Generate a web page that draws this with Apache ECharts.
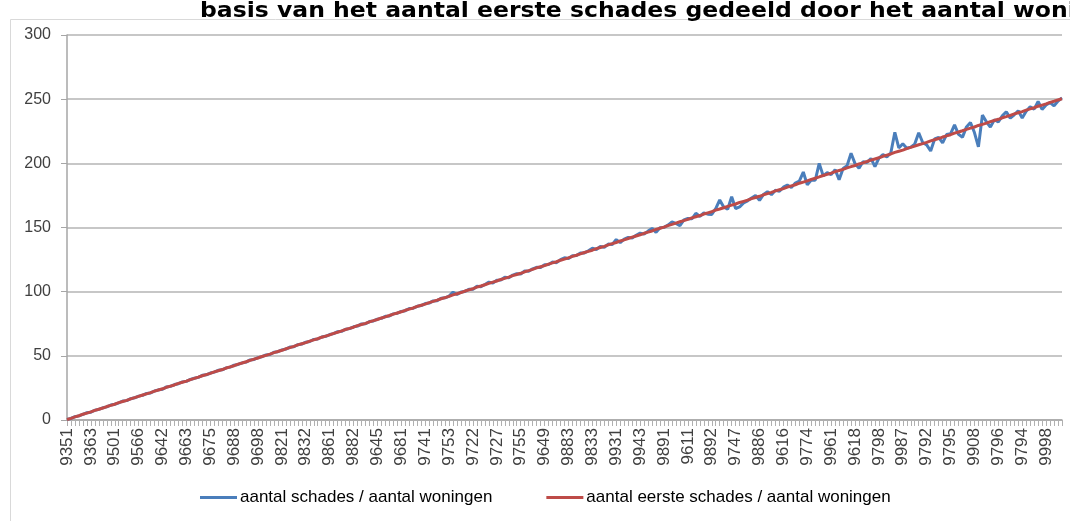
<!DOCTYPE html>
<html>
<head>
<meta charset="utf-8">
<script src="https://cdn.jsdelivr.net/npm/echarts@6/dist/echarts.min.js"></script>
<style>
html,body{margin:0;padding:0;background:#fff;}
#chart{width:1070px;height:521px;}
</style>
</head>
<body>
<div id="chart"></div>
<script>
const titleText = 'basis van het aantal eerste schades gedeeld door het aantal woningen';
const seriesNames = ['aantal schades / aantal woningen', 'aantal eerste schades / aantal woningen'];

// postcode labels readable on the axis (every 6th category)
const tickLabels = ['9351','9363','9501','9566','9642','9663','9675','9688','9698','9821','9832','9861','9882','9645',
  '9681','9741','9753','9722','9727','9755','9649','9883','9833','9931','9943','9891','9611','9892',
  '9747','9886','9616','9774','9961','9618','9798','9987','9792','9795','9908','9796','9794','9998'];
const labelEvery = 6;

const blueValues = [
  0.5,1.2,2.6,3.2,4.4,5.7,6.1,7.6,8.3,9.5,
  10.2,11.7,12.3,13.4,14.8,15.1,16.6,17.3,18.6,19.2,
  20.7,21.1,22.6,23.5,24.0,25.8,26.2,27.6,28.3,29.7,
  30.1,31.6,32.5,33.2,34.8,35.2,36.6,37.3,38.7,39.1,
  40.6,41.2,42.7,43.3,44.5,45.1,46.8,47.2,48.6,49.3,
  50.7,51.0,52.8,53.2,54.6,55.3,56.8,57.1,58.7,59.2,
  60.6,61.2,62.8,63.1,64.7,65.2,66.6,67.3,68.8,69.1,
  70.7,71.2,72.6,73.2,74.9,75.0,76.7,77.2,78.6,79.2,
  80.8,81.1,82.7,83.2,84.6,85.2,86.9,87.1,88.6,89.2,
  90.7,91.1,92.8,93.0,94.9,95.2,96.5,99.6,97.8,99.8,
  100.2,101.9,101.8,104.2,103.9,105.6,107.4,106.8,108.9,109.1,
  111.2,110.8,112.9,114.0,113.8,116.2,115.9,117.8,119.0,118.9,
  120.9,121.2,123.1,122.6,124.9,126.4,125.8,127.9,128.2,130.1,
  130.2,131.9,133.8,132.9,135.2,134.6,137.1,136.8,140.6,138.2,
  141.0,142.3,141.8,143.9,145.6,144.9,147.2,149.3,146.2,149.8,
  150.1,151.9,154.3,153.2,151.4,155.9,157.0,156.8,161.1,158.6,
  161.3,160.4,160.2,164.8,171.5,166.0,164.2,174.0,164.8,166.0,
  169.2,170.8,173.0,174.9,171.2,175.8,177.9,175.6,179.0,178.2,
  181.4,183.0,181.2,184.6,186.2,193.2,183.2,187.0,186.8,200.0,
  190.2,192.8,191.2,195.1,187.2,196.0,198.2,207.9,199.8,196.2,
  201.2,200.6,203.8,197.4,204.1,206.8,205.0,208.2,224.2,212.0,
  215.2,211.8,212.6,215.0,223.8,216.2,214.4,209.6,219.0,220.2,
  216.0,222.4,223.0,230.0,222.6,220.4,228.4,231.8,224.0,212.8,
  237.6,232.4,228.2,234.0,232.2,237.0,240.2,235.2,237.8,241.0,
  235.4,240.6,244.0,242.2,248.2,242.0,245.4,247.4,244.8,248.6,
  251.0
];

const redValues = [
  0.4,1.3,2.4,3.3,4.5,5.4,6.3,7.5,8.4,9.3,
  10.5,11.4,12.3,13.5,14.4,15.3,16.5,17.4,18.4,19.5,
  20.4,21.3,22.5,23.4,24.3,25.5,26.4,27.3,28.5,29.4,
  30.3,31.5,32.4,33.4,34.5,35.4,36.3,37.5,38.4,39.3,
  40.5,41.4,42.3,43.5,44.4,45.4,46.5,47.4,48.3,49.5,
  50.4,51.3,52.5,53.4,54.3,55.5,56.4,57.4,58.5,59.4,
  60.3,61.5,62.4,63.3,64.5,65.4,66.3,67.5,68.4,69.4,
  70.5,71.4,72.3,73.5,74.4,75.3,76.5,77.4,78.3,79.5,
  80.4,81.4,82.5,83.4,84.3,85.5,86.4,87.3,88.5,89.4,
  90.3,91.5,92.4,93.4,94.5,95.4,96.3,97.5,98.4,99.3,
  100.5,101.4,102.3,103.5,104.4,105.4,106.5,107.4,108.3,109.5,
  110.4,111.3,112.5,113.4,114.3,115.5,116.4,117.4,118.5,119.4,
  120.3,121.5,122.4,123.3,124.5,125.4,126.3,127.5,128.4,129.4,
  130.5,131.4,132.3,133.5,134.4,135.3,136.5,137.4,138.3,139.5,
  140.4,141.4,142.5,143.4,144.3,145.5,146.4,147.3,148.5,149.4,
  150.3,151.5,152.4,153.4,154.5,155.4,156.3,157.5,158.4,159.3,
  160.5,161.4,162.3,163.5,164.4,165.4,166.5,167.4,168.3,169.5,
  170.4,171.3,172.5,173.4,174.3,175.5,176.4,177.4,178.5,179.4,
  180.3,181.5,182.4,183.3,184.5,185.4,186.3,187.5,188.4,189.4,
  190.5,191.4,192.3,193.5,194.4,195.3,196.5,197.4,198.3,199.5,
  200.4,201.4,202.5,203.4,204.3,205.5,206.4,207.3,208.5,209.4,
  210.3,211.5,212.4,213.4,214.5,215.4,216.3,217.5,218.4,219.3,
  220.5,221.4,222.3,223.5,224.4,225.4,226.5,227.4,228.3,229.5,
  230.4,231.3,232.5,233.4,234.3,235.5,236.4,237.4,238.5,239.4,
  240.3,241.5,242.4,243.3,244.5,245.4,246.3,247.5,248.4,249.4,
  250.3
];

const yMin = 0, yMax = 300, yStep = 50;

// categories: readable postcodes at every 6th position, others unreadable (blank)
const categories = blueValues.map((v, i) => (i % labelEvery === 0 && tickLabels[i / labelEvery]) ? tickLabels[i / labelEvery] : '');

const chart = echarts.init(document.getElementById('chart'));
const axisFont = 'Liberation Sans, Arial, sans-serif';
chart.setOption({
  animation: false,
  backgroundColor: '#ffffff',
  graphic: [
    { type: 'rect', silent: true, z: -10,
      shape: { x: 10.5, y: 19.5, width: 1200, height: 700 },
      style: { fill: 'none', stroke: '#d9d9d9', lineWidth: 1 } },
    { type: 'text', silent: true, x: 200, y: 22, scaleX: 1.12,
      style: { text: titleText, fill: '#000', font: 'bold 21px "DejaVu Sans", Verdana, sans-serif',
               verticalAlign: 'bottom', align: 'left' } }
  ],
  legend: {
    bottom: 10, left: 195,
    itemWidth: 37, itemHeight: 3, itemGap: 54,
    icon: 'rect',
    textStyle: { fontFamily: axisFont, fontSize: 17, color: '#000', padding: [0, 0, 0, -2] },
    data: seriesNames
  },
  grid: { left: 67, right: 8, top: 35, bottom: 101, containLabel: false },
  xAxis: {
    type: 'category',
    data: categories,
    boundaryGap: false,
    axisLine: { lineStyle: { color: '#a6a6a6', width: 1.5 } },
    axisTick: { show: true, interval: 0, length: 6, lineStyle: { color: '#b0b0b0' } },
    axisLabel: { interval: labelEvery - 1, rotate: 90, margin: 8, color: '#404040',
                 fontFamily: axisFont, fontSize: 17 },
    splitLine: { show: false }
  },
  yAxis: {
    type: 'value', min: yMin, max: yMax, interval: yStep,
    axisLine: { show: true, lineStyle: { color: '#a6a6a6', width: 1.5 } },
    axisTick: { show: true, length: 6, lineStyle: { color: '#a6a6a6' } },
    axisLabel: { color: '#404040', fontFamily: axisFont, fontSize: 16, margin: 16 },
    splitLine: { lineStyle: { color: '#b4b4b4', width: 1.5 } }
  },
  series: [
    { name: seriesNames[0], type: 'line', data: blueValues, showSymbol: false, symbol: 'none',
      lineStyle: { color: '#4a7ebb', width: 3 }, itemStyle: { color: '#4a7ebb' } },
    { name: seriesNames[1], type: 'line', data: redValues, showSymbol: false, symbol: 'none',
      lineStyle: { color: '#be4b48', width: 3 }, itemStyle: { color: '#be4b48' } }
  ]
});
</script>
</body>
</html>
